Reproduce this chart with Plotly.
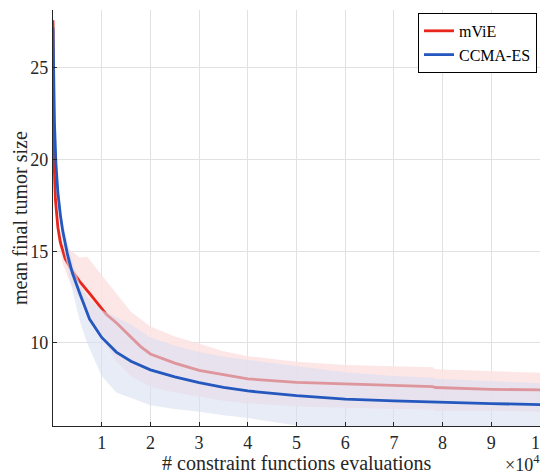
import plotly.graph_objects as go

# x values in units of 10^4 evaluations
x_red = [0, 0.01, 0.02, 0.05, 0.1, 0.15, 0.25, 0.4, 0.55, 0.75, 1.0, 1.1, 1.3, 1.5, 1.8,
         2.0, 2.5, 3.0, 3.5, 4.0, 5.0, 6.0, 7.0, 7.8, 7.85, 9.0, 10]
mvie_mean = [27.6, 23.0, 20.0, 17.8, 16.3, 15.5, 14.6, 13.9, 13.35, 12.7, 11.9, 11.55, 11.1,
             10.6, 9.8, 9.4, 8.9, 8.5, 8.25, 8.04, 7.85, 7.76, 7.7, 7.62, 7.57, 7.47, 7.44]

x_blue = [0, 0.01, 0.03, 0.06, 0.1, 0.15, 0.2, 0.3, 0.4, 0.55, 0.75, 1.0, 1.3, 1.6, 2.0,
          2.5, 3.0, 3.5, 4.0, 5.0, 6.0, 7.0, 8.0, 9.0, 10]
ccma_mean = [27.2, 25.0, 22.0, 19.8, 18.2, 17.0, 16.1, 14.8, 13.8, 12.7, 11.3, 10.3, 9.5, 9.0,
             8.53, 8.15, 7.83, 7.58, 7.38, 7.13, 6.94, 6.84, 6.75, 6.69, 6.64]

x_band = [0, 0.02, 0.05, 0.1, 0.2, 0.35, 0.55, 0.7, 1.0, 1.3, 1.6, 2.0, 2.5, 3.0, 3.5, 4.0,
          5.0, 6.0, 7.0, 7.8, 7.85, 9.0, 10]
mvie_upper = [27.6, 20.5, 18.2, 16.8, 15.4, 15.1, 14.65, 14.7, 13.7, 12.7, 11.7, 10.9, 10.35,
              9.95, 9.55, 9.28, 8.98, 8.8, 8.75, 8.68, 8.56, 8.47, 8.38]
mvie_lower = [27.6, 19.5, 17.2, 15.8, 14.3, 13.3, 12.4, 11.6, 10.3, 9.0, 8.2, 7.6, 7.3, 7.07,
              6.85, 6.7, 6.53, 6.45, 6.4, 6.35, 6.3, 6.3, 6.25]
ccma_upper = [27.2, 23.5, 20.5, 18.8, 16.6, 14.9, 13.2, 12.5, 11.8, 11.4, 11.0, 10.3, 9.85,
              9.5, 9.25, 9.07, 8.75, 8.4, 8.2, 8.1, 8.05, 7.9, 7.8]
ccma_lower = [27.2, 22.5, 19.3, 17.5, 15.4, 13.4, 11.2, 10.0, 8.2, 7.3, 7.0, 6.6, 6.4, 6.25,
              6.05, 5.9, 5.5, 5.2, 5.0, 4.9, 4.9, 4.8, 4.7]

tick_vals = [1, 2, 3, 4, 5, 6, 7, 8, 9, 10]
tick_text = ["1", "2", "3", "4", "5", "6", "7", "8", "9", "10"]
y_ticks = [10, 15, 20, 25]

SCALE = 1e4
def sc(v):
    return [a * SCALE for a in v]

RED = "rgb(232,38,28)"
BLUE = "rgb(36,88,190)"
FONT = "Liberation Serif"
TXT = "rgb(38,38,38)"

fig = go.Figure()

fig.add_trace(go.Scatter(
    x=sc(x_band) + sc(x_band)[::-1], y=mvie_upper + mvie_lower[::-1],
    fill="toself", fillcolor="rgba(252,226,226,0.85)", line=dict(width=0),
    hoverinfo="skip", showlegend=False))
fig.add_trace(go.Scatter(
    x=sc(x_red), y=mvie_mean, mode="lines", name="mViE",
    line=dict(color=RED, width=2.8)))
fig.add_trace(go.Scatter(
    x=sc(x_band) + sc(x_band)[::-1], y=ccma_upper + ccma_lower[::-1],
    fill="toself", fillcolor="rgba(216,223,242,0.6)", line=dict(width=0),
    hoverinfo="skip", showlegend=False))
fig.add_trace(go.Scatter(
    x=sc(x_blue), y=ccma_mean, mode="lines", name="CCMA-ES",
    line=dict(color=BLUE, width=2.8)))

axis_common = dict(
    showgrid=True, gridcolor="rgb(225,225,225)", gridwidth=1,
    showline=True, linecolor=TXT, linewidth=1.2,
    ticks="inside", ticklen=4, tickcolor=TXT,
    zeroline=False, mirror=False, automargin=False,
    ticklabeloverflow="allow",
    tickfont=dict(family=FONT, size=18, color=TXT),
)

# page body has an 8px margin, so the figure is 8px smaller and shifted
fig.update_layout(
    width=540, height=468,
    margin=dict(l=45, r=8, t=2, b=50),
    paper_bgcolor="white", plot_bgcolor="white",
    font=dict(family=FONT, color=TXT),
    xaxis=dict(range=[0, 10 * SCALE], tickvals=sc(tick_vals), ticktext=tick_text,
               **axis_common),
    yaxis=dict(range=[5.47, 28.16], tickvals=y_ticks, **axis_common),
    legend=dict(x=0.9938, y=0.993, xanchor="right", yanchor="top",
                bgcolor="white", bordercolor="black", borderwidth=1,
                font=dict(family=FONT, size=16, color="black"),
                itemwidth=30, tracegroupgap=0),
    annotations=[
        dict(text="# constraint functions evaluations", xref="paper", yref="paper",
             x=0.5, y=-0.0889, xanchor="center", yanchor="middle", showarrow=False,
             font=dict(family=FONT, size=20, color=TXT)),
        dict(text="mean final tumor size", xref="paper", yref="paper",
             x=-0.0678, y=0.5, xanchor="center", yanchor="middle", textangle=-90,
             showarrow=False, font=dict(family=FONT, size=20, color=TXT)),
        dict(text="×10<sup>4</sup>", xref="paper", yref="paper",
             x=1.004, y=-0.122, xanchor="right", yanchor="bottom",
             showarrow=False, font=dict(family=FONT, size=18, color=TXT)),
    ],
)

fig.write_html("out.html")
